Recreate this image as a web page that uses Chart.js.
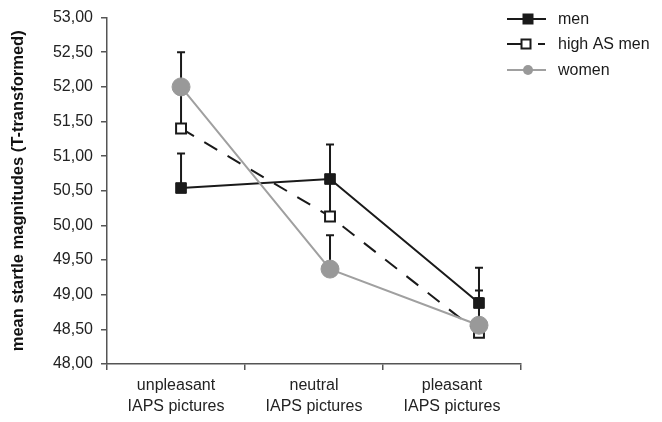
<!DOCTYPE html>
<html>
<head>
<meta charset="utf-8">
<script src="https://cdn.jsdelivr.net/npm/chart.js@4"></script>
<style>
html,body{margin:0;padding:0;background:#fff;}
#wrap{width:662px;height:422px;position:relative;}
</style>
</head>
<body>
<div id="wrap"><canvas id="c" width="662" height="422"></canvas></div>
<script>
const categories = [['unpleasant','IAPS pictures'],['neutral','IAPS pictures'],['pleasant','IAPS pictures']];
const seriesNames = ['men','high AS men','women'];
const menValues = [50.54, 50.67, 48.88];
const menErrors = [0.50, 0.50, 0.51];
const highASValues = [51.40, 50.13, 48.45];
const highASErrors = [0.50, 0.50, 0.50];
const womenValues = [52.00, 49.37, 48.56];
const womenErrors = [0.50, 0.49, 0.50];
const yTicks = [48, 48.5, 49, 49.5, 50, 50.5, 51, 51.5, 52, 52.5, 53];

const FONT = '"Liberation Sans", Arial, sans-serif';

function pts(vals){ return vals.map((v,i)=>({x:i,y:v})); }

const errorBars = {
  id:'errorBars',
  beforeDatasetDraw(chart, args){
    const ds = chart.data.datasets[args.index];
    if(!ds.errors) return;
    const meta = args.meta;
    const ys = chart.scales.y;
    const ctx = chart.ctx;
    ctx.save();
    ctx.strokeStyle = '#1a1a1a';
    ctx.lineWidth = 2;
    meta.data.forEach((el,i)=>{
      const x = el.x;
      const y0 = ys.getPixelForValue(ds.data[i].y);
      const y1 = ys.getPixelForValue(ds.data[i].y + ds.errors[i]);
      ctx.beginPath();
      ctx.moveTo(x,y0); ctx.lineTo(x,y1);
      ctx.moveTo(x-4,y1); ctx.lineTo(x+4,y1);
      ctx.stroke();
    });
    ctx.restore();
  }
};

const customLegend = {
  id:'customLegend',
  afterDraw(chart){
    const ctx = chart.ctx;
    const rowsY = [19, 44, 70];
    ctx.save();
    ctx.font = '16px ' + FONT;
    ctx.textBaseline = 'middle';
    const order = [0,1,2];
    order.forEach((di,row)=>{
      const ds = chart.data.datasets[di];
      const y = rowsY[row];
      ctx.strokeStyle = ds.borderColor;
      ctx.lineWidth = 2;
      if(ds.borderDash && ds.borderDash.length){
        ctx.beginPath(); ctx.moveTo(507,y); ctx.lineTo(521,y); ctx.stroke();
        ctx.beginPath(); ctx.moveTo(538,y); ctx.lineTo(545,y); ctx.stroke();
      } else {
        ctx.beginPath(); ctx.moveTo(507,y); ctx.lineTo(546,y); ctx.stroke();
      }
      const mx = ds.borderDash && ds.borderDash.length ? 526 : 528;
      if(ds.pointStyle === 'circle'){
        ctx.fillStyle = ds.pointBackgroundColor;
        ctx.beginPath(); ctx.arc(mx,y,5,0,Math.PI*2); ctx.fill();
      } else {
        ctx.fillStyle = ds.pointBackgroundColor;
        ctx.fillRect(mx-5,y-5,10,10);
        ctx.strokeStyle = ds.pointBorderColor;
        ctx.lineWidth = 2;
        ctx.strokeRect(mx-4.5,y-4.5,9,9);
      }
      ctx.fillStyle = '#1a1a1a';
      ctx.fillText(ds.label, 558, y+1);
    });
    ctx.restore();
  }
};

new Chart(document.getElementById('c'), {
  type:'line',
  data:{
    labels: categories,
    datasets:[
      {label:seriesNames[0], data:pts(menValues), errors:menErrors, xAxisID:'xl',
       borderColor:'#1a1a1a', borderWidth:2, pointStyle:'rect', pointRadius:7.5, pointHoverRadius:7.5,
       pointBackgroundColor:'#1a1a1a', pointBorderColor:'#1a1a1a', pointBorderWidth:1, order:1},
      {label:seriesNames[1], data:pts(highASValues), errors:highASErrors, xAxisID:'xl',
       borderColor:'#1a1a1a', borderWidth:2, borderDash:[15,12], pointStyle:'rect', pointRadius:7, pointHoverRadius:7,
       pointBackgroundColor:'#ffffff', pointBorderColor:'#1a1a1a', pointBorderWidth:2, order:2},
      {label:seriesNames[2], data:pts(womenValues), errors:womenErrors, xAxisID:'xl',
       borderColor:'#a0a0a0', borderWidth:2, pointStyle:'circle', pointRadius:9, pointHoverRadius:9,
       pointBackgroundColor:'#999999', pointBorderColor:'#999999', pointBorderWidth:1, order:0}
    ]
  },
  options:{
    responsive:false,
    animation:false,
    events:[],
    layout:{padding:{top:15,right:141,bottom:0,left:0}},
    plugins:{legend:{display:false}, tooltip:{enabled:false}},
    scales:{
      xl:{type:'linear', position:'bottom', display:false, min:-0.497, max:2.282},
      x:{type:'category', position:'bottom', offset:true,
         grid:{offset:true, drawOnChartArea:false, drawTicks:true, tickLength:6, color:'#555', lineWidth:1.5},
         border:{color:'#555', width:1.5},
         ticks:{color:'#222', font:{family:FONT, size:16, lineHeight:1.3}, padding:5, maxRotation:0, autoSkip:false},
         afterFit(s){ s.height = 58; }
      },
      y:{min:48, max:53,
         afterBuildTicks(s){ s.ticks = yTicks.map(v=>({value:v})); },
         grid:{drawOnChartArea:false, drawTicks:true, tickLength:6, color:'#555', lineWidth:1.5},
         border:{color:'#555', width:1.5},
         ticks:{color:'#222', font:{family:FONT, size:16}, padding:8,
                callback:(v)=>Number(v).toFixed(2).replace('.',',')},
         title:{display:true, text:'mean startle magnitudes (T-transformed)', color:'#111',
                font:{family:FONT, size:16.5, weight:'bold'}, padding:{top:9,bottom:0}},
         afterFit(s){ s.width = 107; }
      }
    }
  },
  plugins:[errorBars, customLegend]
});
</script>
</body>
</html>
